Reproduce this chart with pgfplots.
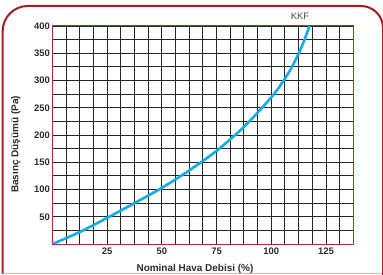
\documentclass[border=0pt]{standalone}
\usepackage{fontspec}
\setmainfont{Liberation Sans}
\usepackage{pgfplots}
\pgfplotsset{compat=1.18}
\definecolor{framered}{RGB}{165,30,35}
\definecolor{axred}{RGB}{190,40,45}
\definecolor{curvecol}{RGB}{15,172,232}
\definecolor{pinkline}{RGB}{235,175,180}
\definecolor{txt}{RGB}{45,45,45}
\begin{document}
\begin{tikzpicture}[x=1bp,y=1bp]
\path[use as bounding box] (0,0) rectangle (383,275);
\begin{scope}
\clip (0,0) rectangle (383,275);
\draw[pinkline, line width=1.2bp] (2.7,1.5) -- (383,1.5);
\draw[framered, line width=2bp] (2.7,1.5) -- (2.7,244) arc[start angle=180,end angle=90,radius=25] -- (361,269) arc[start angle=90,end angle=0,radius=22] -- (383,-5);
\end{scope}
\begin{axis}[
  at={(52.5bp,31bp)}, anchor=south west,
  scale only axis, width=300.8bp, height=218bp,
  xmin=0, xmax=137.5, ymin=0, ymax=400,
  xtick={25,50,75,100,125},
  minor xtick={6.25,12.5,18.75,31.25,37.5,43.75,56.25,62.5,68.75,81.25,87.5,93.75,106.25,112.5,118.75,131.25},
  ytick={50,100,...,400},
  minor ytick={25,75,...,375},
  grid=both,
  major grid style={black!85, line width=0.9bp},
  minor grid style={black!85, line width=0.9bp},
  axis line style={axred, line width=1bp},
  major tick length=0pt, minor tick length=0pt,
  tick style={draw=none},
  /pgf/number format/assume math mode=true,
  ticklabel style={font=\bfseries\fontsize{9.5}{10}\selectfont, text=txt},
  yticklabel style={xshift=1bp},
  xticklabel style={yshift=-0.5bp},
  clip=true,
]
\addplot[curvecol, line width=2.6bp, smooth] coordinates {
(0,0) (12.5,22) (25,48) (37.5,75) (50,103) (62.5,135) (75,171) (87.5,215) (100,269) (106,302) (110,329) (114,363) (117.5,400)
};
\end{axis}
\node[anchor=base, font=\bfseries\fontsize{10}{12}\selectfont, text=txt] at (195,3.5) {Nominal Hava Debisi (\%)};
\node[anchor=base, rotate=90, font=\bfseries\fontsize{10}{12}\selectfont, text=txt] at (18.3,130.5) {Basınç Düşümü (Pa)};
\node[font=\fontsize{9.5}{10}\selectfont, text=black!70] at (300,259) {KKF};
\end{tikzpicture}
\end{document}
